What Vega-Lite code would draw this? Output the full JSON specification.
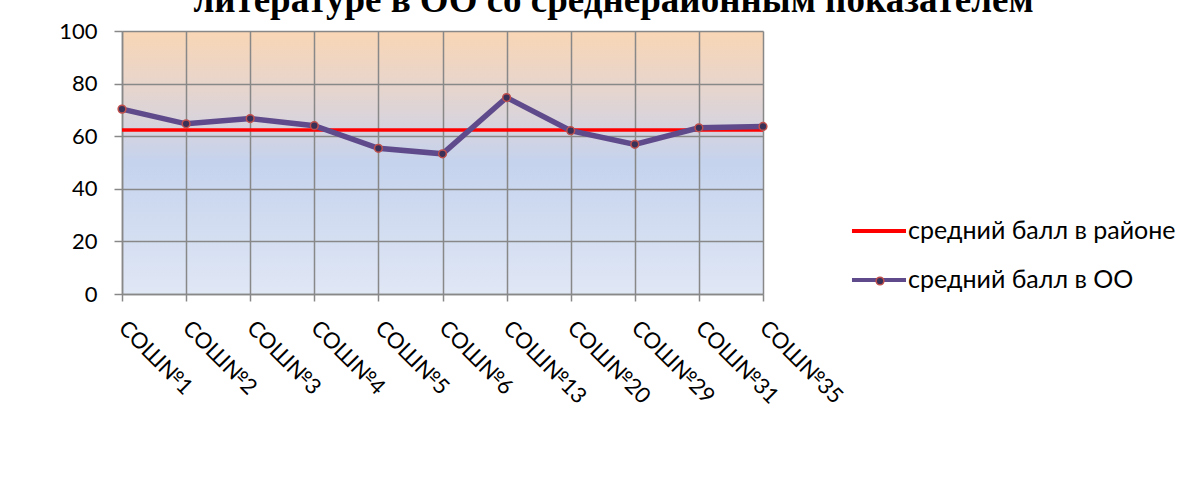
{
  "$schema": "https://vega.github.io/schema/vega-lite/v6.json",
  "width": 641,
  "height": 263,
  "autosize": {"type": "none"},
  "padding": {"left": 122, "top": 31, "right": 423, "bottom": 195},
  "background": "white",
  "view": {
    "stroke": null,
    "fill": {
      "gradient": "linear", "x1": 0, "y1": 0, "x2": 0, "y2": 1,
      "stops": [
        {"offset": 0, "color": "#f9d6b5"},
        {"offset": 0.2, "color": "#e8d5cb"},
        {"offset": 0.4, "color": "#d2d3e2"},
        {"offset": 0.5, "color": "#c5d3ed"},
        {"offset": 1, "color": "#e0e7f5"}
      ]
    }
  },
  "title": {
    "text": "литературе в ОО со среднерайонным показателем",
    "font": "Liberation Serif",
    "fontSize": 37,
    "fontWeight": "bold",
    "color": "black",
    "anchor": "middle",
    "frame": "group",
    "dx": 171,
    "dy": 15,
    "offset": -14,
    "baseline": "alphabetic"
  },
  "data": {
    "values": [
      {"school": "СОШ№1", "series": "средний балл в районе", "value": 62.4},
      {"school": "СОШ№2", "series": "средний балл в районе", "value": 62.4},
      {"school": "СОШ№3", "series": "средний балл в районе", "value": 62.4},
      {"school": "СОШ№4", "series": "средний балл в районе", "value": 62.4},
      {"school": "СОШ№5", "series": "средний балл в районе", "value": 62.4},
      {"school": "СОШ№6", "series": "средний балл в районе", "value": 62.4},
      {"school": "СОШ№13", "series": "средний балл в районе", "value": 62.4},
      {"school": "СОШ№20", "series": "средний балл в районе", "value": 62.4},
      {"school": "СОШ№29", "series": "средний балл в районе", "value": 62.4},
      {"school": "СОШ№31", "series": "средний балл в районе", "value": 62.4},
      {"school": "СОШ№35", "series": "средний балл в районе", "value": 62.4},
      {"school": "СОШ№1", "series": "средний балл в ОО", "value": 70.3},
      {"school": "СОШ№2", "series": "средний балл в ОО", "value": 64.7},
      {"school": "СОШ№3", "series": "средний балл в ОО", "value": 66.7},
      {"school": "СОШ№4", "series": "средний балл в ОО", "value": 64.0},
      {"school": "СОШ№5", "series": "средний балл в ОО", "value": 55.4},
      {"school": "СОШ№6", "series": "средний балл в ОО", "value": 53.3},
      {"school": "СОШ№13", "series": "средний балл в ОО", "value": 74.7},
      {"school": "СОШ№20", "series": "средний балл в ОО", "value": 62.1},
      {"school": "СОШ№29", "series": "средний балл в ОО", "value": 56.9},
      {"school": "СОШ№31", "series": "средний балл в ОО", "value": 63.2},
      {"school": "СОШ№35", "series": "средний балл в ОО", "value": 63.7}
    ]
  },
  "encoding": {
    "x": {
      "field": "school",
      "type": "ordinal",
      "sort": null,
      "scale": {"type": "point", "padding": 0},
      "axis": {
        "title": null,
        "labelAngle": 45,
        "labelAlign": "left",
        "labelBaseline": "top",
        "labelPadding": 16,
        "labelOffset": 7,
        "tickSize": 7,
        "grid": true
      }
    },
    "y": {
      "field": "value",
      "type": "quantitative",
      "scale": {"domain": [0, 100], "nice": false},
      "axis": {
        "title": null,
        "values": [0, 20, 40, 60, 80, 100],
        "tickSize": 8,
        "labelPadding": 17,
        "grid": true
      }
    }
  },
  "layer": [
    {
      "transform": [{"filter": "datum.series === 'средний балл в районе'"}],
      "mark": {"type": "line", "strokeWidth": 3.5},
      "encoding": {
        "stroke": {
          "field": "series",
          "type": "nominal",
          "scale": {"domain": ["средний балл в районе", "средний балл в ОО"], "range": ["#ff0000", "#5f4a8b"]},
          "legend": {
            "orient": "none",
            "legendX": 744,
            "legendY": 187,
            "title": null,
            "padding": 0,
            "symbolType": "M-2.5,0H2.5",
            "symbolSize": 467,
            "symbolStrokeWidth": 4,
            "labelFont": "Lato",
            "labelFontSize": 25,
            "labelColor": "black",
            "labelOffset": 16,
            "labelLimit": 400,
            "rowPadding": 23
          }
        }
      }
    },
    {
      "transform": [{"filter": "datum.series === 'средний балл в ОО'"}],
      "mark": {"type": "line", "strokeWidth": 5.5},
      "encoding": {
        "stroke": {"field": "series", "type": "nominal"}
      }
    },
    {
      "transform": [{"filter": "datum.series === 'средний балл в ОО'"}],
      "mark": {"type": "point", "filled": true, "size": 60, "stroke": "#c0504d", "strokeWidth": 1.5, "opacity": 1},
      "encoding": {
        "fill": {
          "datum": "средний балл в ОО",
          "scale": {"range": ["#3a3158"]},
          "legend": {
            "orient": "none",
            "legendX": 753,
            "legendY": 245,
            "title": null,
            "padding": 0,
            "symbolType": "circle",
            "symbolSize": 60,
            "symbolStrokeColor": "#c0504d",
            "symbolStrokeWidth": 1.5,
            "labelExpr": "''",
            "labelFontSize": 1
          }
        }
      }
    }
  ],
  "config": {
    "axis": {
      "labelFont": "Lato",
      "labelFontSize": 22,
      "labelColor": "black",
      "tickColor": "#888888",
      "tickWidth": 1.5,
      "domainColor": "#888888",
      "domainWidth": 1.5,
      "gridColor": "#888888",
      "gridWidth": 1.5,
      "gridOpacity": 1
    }
  }
}
